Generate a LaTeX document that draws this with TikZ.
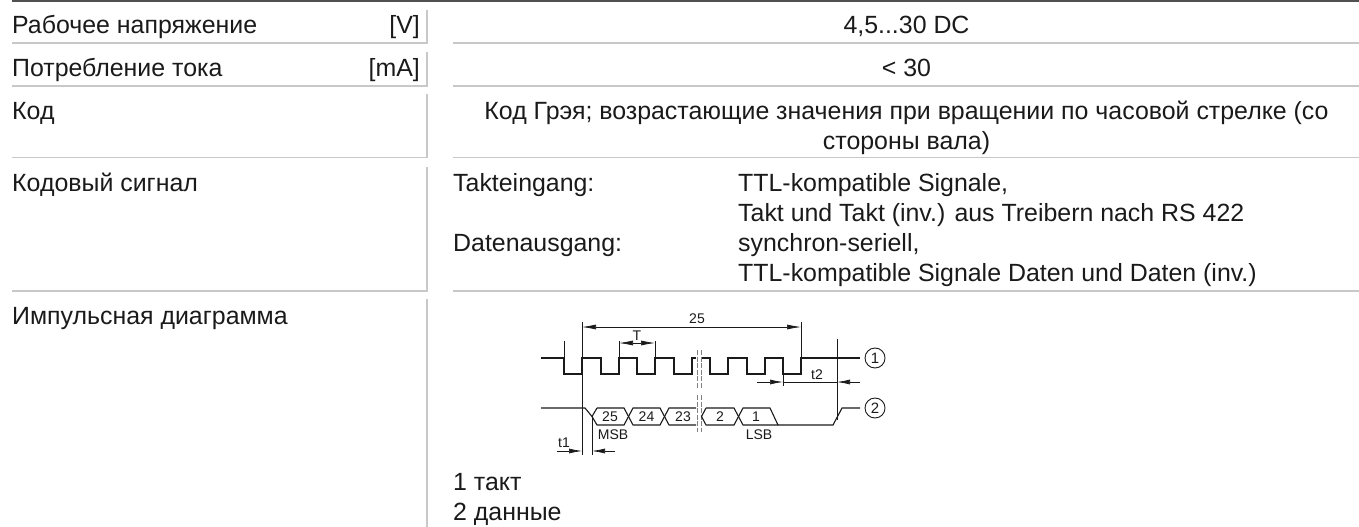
\documentclass[tikz,border=0pt]{standalone}
\usepackage{fontspec}
\setmainfont{Liberation Sans}
\usetikzlibrary{arrows.meta}
\definecolor{rulegray}{HTML}{C8C8C8}
\definecolor{barcolor}{HTML}{505050}
\definecolor{inkcolor}{HTML}{1A1A1A}
\tikzset{
	topbar/.style={barcolor,line width=2pt},%
	tablerule/.style={rulegray,line width=1.5pt},%
	celltext/.style={inner sep=0pt,text=inkcolor,font=\fontsize{24.9}{30}\selectfont},%
	wave/.style={inkcolor,line width=1.1pt},%
	thinline/.style={inkcolor,line width=0.8pt},%
	breakline/.style={gray,line width=0.9pt,dash pattern=on 5pt off 1.5pt},%
	dimension/.style={inkcolor,line width=0.7pt,{Latex[length=14pt,width=5pt]}-{Latex[length=14pt,width=5pt]}},%
	arrowin/.style={inkcolor,line width=0.7pt,-{Latex[length=13pt,width=5pt]}},%
	marklabel/.style={inner sep=0pt,text=inkcolor,font=\fontsize{14}{16}\selectfont},%
	portmark/.style={circle,draw=inkcolor,line width=0.9pt,minimum size=20pt,inner sep=0pt,text=inkcolor,font=\fontsize{15}{17}\selectfont},%
}
\def\colleft{12}
\def\colsplit{427}
\def\colright{453}
\def\clockhigh{358}
\def\clocklow{374}
\def\datahigh{408}
\def\datalow{425}
\def\datamid{416.5}
\begin{document}
\begin{tikzpicture}[%
		x=1pt,y=-1pt,%
		]
		\useasboundingbox (0,0) rectangle (1359,527);
		\draw[topbar] (\colleft,1) -- (1359,1);
		\foreach \ytop/\ybottom in {10/43,52/86,94/157.5,167/291} {
			\draw[tablerule] (\colsplit,\ytop) -- (\colsplit,\ybottom) -- (\colleft,\ybottom);
			\draw[tablerule] (\colright,\ybottom) -- (1359,\ybottom);
		}
		\draw[tablerule] (\colsplit,299) -- (\colsplit,527);
		\node[celltext,anchor=base west] (voltage) at (\colleft,34) {Рабочее напряжение};
		\node[celltext,anchor=base east] (voltageunit) at (420,34) {[V]};
		\node[celltext,anchor=base] (voltagevalue) at (906.5,34) {4,5...30 DC};
		\node[celltext,anchor=base west] (current) at (\colleft,77) {Потребление тока};
		\node[celltext,anchor=base east] (currentunit) at (420,77) {[mA]};
		\node[celltext,anchor=base] (currentvalue) at (906.5,77) {< 30};
		\node[celltext,anchor=base west] (code) at (\colleft,119) {Код};
		\node[celltext,anchor=base] (codevalue) at (906.5,119) {Код Грэя; возрастающие значения при вращении по часовой стрелке (со};
		\node[celltext,anchor=base] (codevaluetwo) at (906.5,149) {стороны вала)};
		\node[celltext,anchor=base west] (signal) at (\colleft,191) {Кодовый сигнал};
		\node[celltext,anchor=base west] (clockin) at (\colright,191) {Takteingang:};
		\node[celltext,anchor=base west] (clockone) at (738,191) {TTL-kompatible Signale,};
		\node[celltext,anchor=base west] (clocktwo) at (738,221) {Takt und Takt (inv.) aus Treibern nach RS 422};
		\node[celltext,anchor=base west] (dataout) at (\colright,251) {Datenausgang:};
		\node[celltext,anchor=base west] (dataone) at (738,251) {synchron-seriell,};
		\node[celltext,anchor=base west] (datatwo) at (738,281) {TTL-kompatible Signale Daten und Daten (inv.)};
		\node[celltext,anchor=base west] (pulse) at (\colleft,324) {Импульсная диаграмма};
		\node[celltext,anchor=base west] (legendone) at (\colright,490) {1 такт};
		\node[celltext,anchor=base west] (legendtwo) at (\colright,520) {2 данные};
		\node[portmark] (portone) at (875,\clockhigh) {1};
		\node[portmark] (porttwo) at (875,\datahigh) {2};
		\draw[wave] (541,\clockhigh) -- (564,\clockhigh) -- (564,\clocklow) -- (582,\clocklow) -- (582,\clockhigh)
			-- (601,\clockhigh) -- (601,\clocklow) -- (619,\clocklow) -- (619,\clockhigh)
			-- (637,\clockhigh) -- (637,\clocklow) -- (655,\clocklow) -- (655,\clockhigh)
			-- (674,\clockhigh) -- (674,\clocklow) -- (692,\clocklow) -- (692,\clockhigh) -- (696,\clockhigh);
		\draw[wave] (702,\clockhigh) -- (710,\clockhigh) -- (710,\clocklow) -- (728,\clocklow) -- (728,\clockhigh)
			-- (747,\clockhigh) -- (747,\clocklow) -- (765,\clocklow) -- (765,\clockhigh)
			-- (783,\clockhigh) -- (783,\clocklow) -- (801,\clocklow) -- (801,\clockhigh) -- (860,\clockhigh);
		\draw[thinline] (564,341) -- (564,\clockhigh);
		\draw[thinline] (619,341) -- (619,\clockhigh);
		\draw[thinline] (655,341) -- (655,\clockhigh);
		\draw[thinline] (582,322) -- (582,455);
		\draw[thinline] (801,322) -- (801,\clockhigh);
		\draw[thinline] (783,\clocklow) -- (783,386);
		\draw[thinline] (837,339) -- (837,420);
		\draw[thinline] (592,\datamid) -- (592,455);
		\foreach \xbreak in {697,701} {
			\draw[breakline] (\xbreak,350) -- (\xbreak,388);
			\draw[breakline] (\xbreak,395) -- (\xbreak,432);
		}
		\draw[wave] (541,\datahigh) -- (585,\datahigh) -- (592,\datamid);
		\draw[wave] (597,\datahigh) -- (592,\datamid) -- (597,\datalow) -- (624,\datalow) -- (633,\datahigh) -- (660,\datahigh) -- (669,\datalow) -- (696,\datalow);
		\draw[wave] (597,\datahigh) -- (624,\datahigh) -- (633,\datalow) -- (660,\datalow) -- (669,\datahigh) -- (696,\datahigh);
		\draw[wave] (706,\datahigh) -- (701.5,\datamid) -- (706,\datalow) -- (734,\datalow) -- (743,\datahigh) -- (770,\datahigh) -- (778,\datalow) -- (833,\datalow) -- (842,\datahigh) -- (860,\datahigh);
		\draw[wave] (706,\datahigh) -- (734,\datahigh) -- (743,\datalow) -- (778,\datalow);
		\node[marklabel] (cellone) at (610,416.5) {25};
		\node[marklabel] (celltwo) at (646.5,416.5) {24};
		\node[marklabel] (cellthree) at (683,416.5) {23};
		\node[marklabel] (cellfour) at (720,416.5) {2};
		\node[marklabel] (cellfive) at (756,416.5) {1};
		\node[marklabel] (msb) at (613,434.5) {MSB};
		\node[marklabel] (lsb) at (759,434.5) {LSB};
		\node[marklabel] (total) at (697,319) {25};
		\node[marklabel] (period) at (637,336) {T};
		\node[marklabel] (tone) at (564,443) {t1};
		\node[marklabel] (ttwo) at (817,375) {t2};
		\coordinate (dimleft) at (582,327);
		\coordinate (dimright) at (801,327);
		\draw[dimension] (dimleft) -- (dimright);
		\draw[dimension] (619,343) -- (655,343);
		\draw[arrowin] (557,451) -- (582,451);
		\draw[arrowin] (615,451) -- (592,451);
		\draw[arrowin] (757,382) -- (783,382);
		\draw[arrowin] (860,382) -- (837,382);
		\draw[thinline] (783,382) -- (837,382);
	\end{tikzpicture}
\end{document}
